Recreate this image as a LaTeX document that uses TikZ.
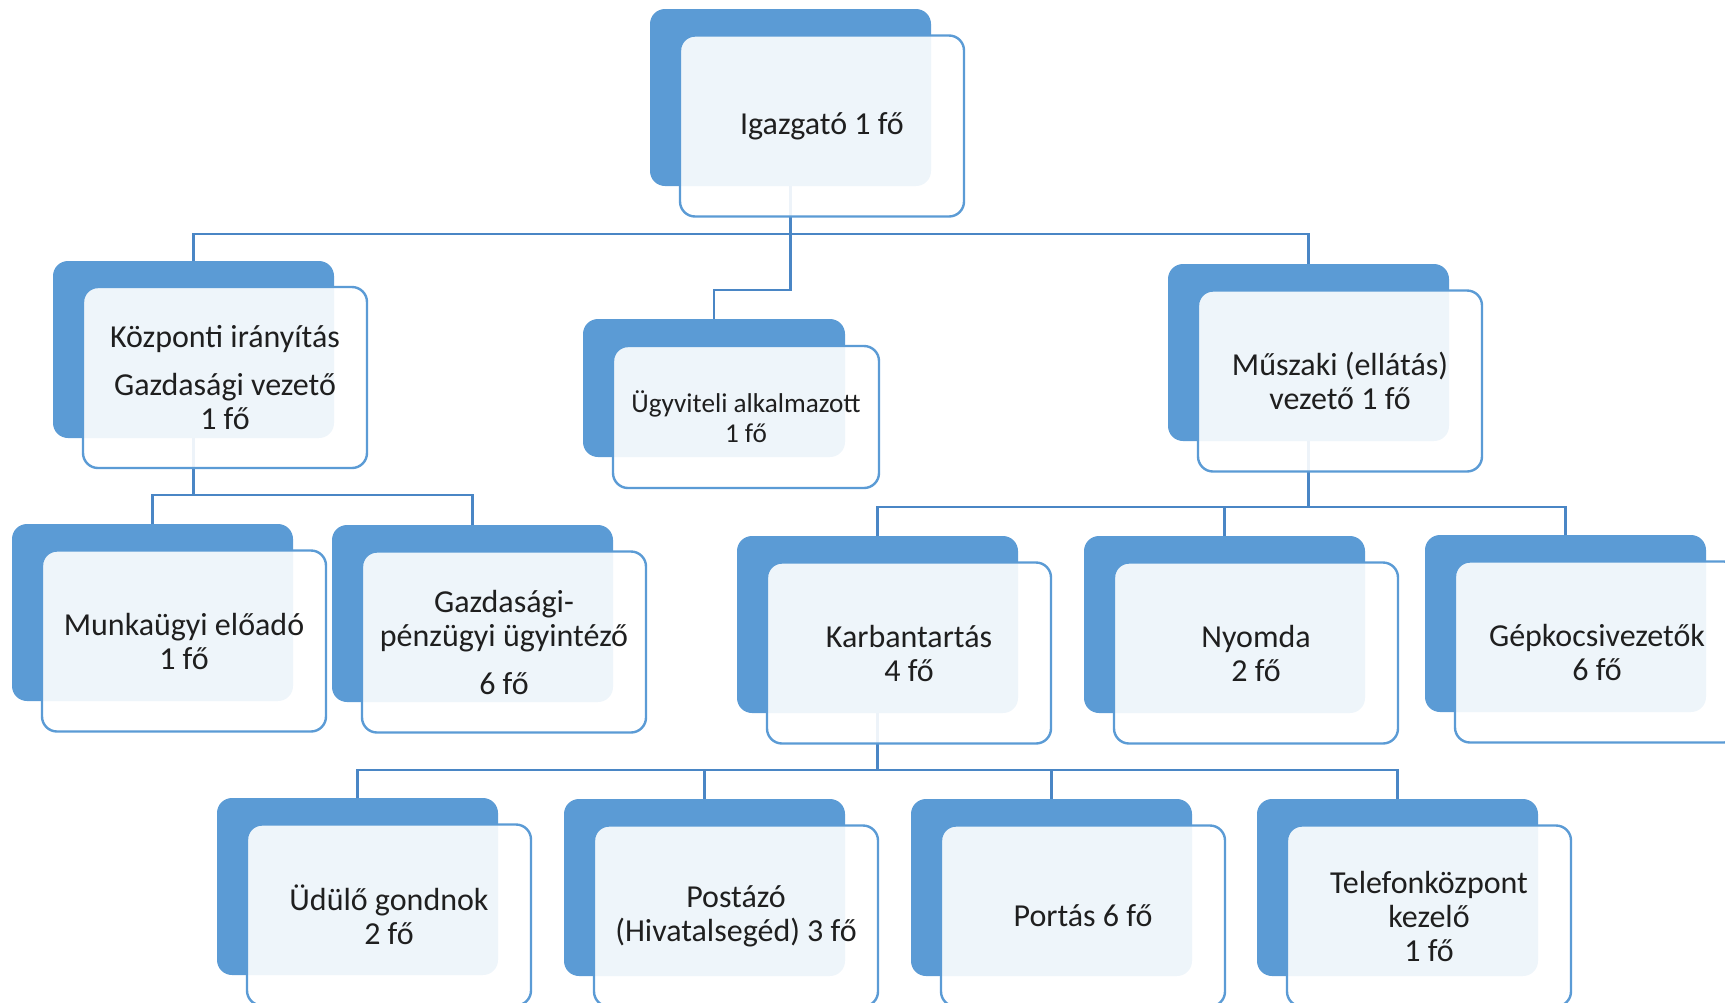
\documentclass[tikz,border=0pt]{standalone}
\usepackage{fontspec}
\setmainfont{Carlito}
\definecolor{bblue}{HTML}{5B9BD5}
\definecolor{lblue}{HTML}{4A86C5}
\begin{document}
\begin{tikzpicture}[x=0.5pt,y=-0.5pt,
 backbox/.style={fill=bblue, rounded corners=7.5pt, minimum width=140.5pt, minimum height=88.5pt, inner sep=0pt, outer sep=0pt},
 smallback/.style={backbox, minimum width=131pt, minimum height=69pt},
 frontbox/.style={draw=bblue, line width=1.2pt, fill=white, fill opacity=0.9, text opacity=1, rounded corners=7.5pt, minimum width=142pt, minimum height=90.5pt, inner sep=0pt, align=center, font=\fontsize{16}{17}\selectfont, text=black!88},
 smallfront/.style={frontbox, minimum width=133pt, minimum height=71pt, font=\fontsize{13.6}{15}\selectfont},
 link/.style={draw=lblue, line width=1.1pt}]
\useasboundingbox (0,0) rectangle (1725,1002);
\clip (0,0) rectangle (1725,1002);
% back boxes
\node[backbox] (ig) at (790.5,97.5) {};
\node[backbox] (koz) at (193.5,349.5) {};
\node[smallback] (ugy) at (714,388) {};
\node[backbox] (mus) at (1308.5,352.5) {};
\node[backbox] (mun) at (152.5,612.5) {};
\node[backbox] (gaz) at (472.5,613.5) {};
\node[backbox] (kar) at (877.5,624.5) {};
\node[backbox] (nyo) at (1224.5,624.5) {};
\node[backbox] (gep) at (1565.5,623.5) {};
\node[backbox] (udu) at (357.5,886.5) {};
\node[backbox] (pos) at (704.5,887.5) {};
\node[backbox] (por) at (1051.5,887.5) {};
\node[backbox] (tel) at (1397.5,887.5) {};
% connectors
\coordinate (t1) at (790.5,234);
\coordinate (t2) at (790.5,290);
\draw[link] (ig.south) -- (t2) -| (ugy.north);
\draw[link] (koz.north) |- (t1) -| (mus.north);
\coordinate (k1) at (193.5,495);
\draw[link] (koz.south) -- (k1);
\draw[link] (mun.north) |- (k1) -| (gaz.north);
\coordinate (m1) at (1308.5,507);
\draw[link] (mus.south) -- (m1);
\draw[link] (kar.north) |- (m1) -| (gep.north);
\draw[link] (nyo.north) |- (m1);
\coordinate (c1) at (877.5,770);
\draw[link] (kar.south) -- (c1);
\draw[link] (udu.north) |- (c1) -| (tel.north);
\draw[link] (pos.north) |- (c1);
\draw[link] (por.north) |- (c1);
% front boxes
\node[frontbox] (igf) at (822,126) {Igazgató 1 fő};
\node[frontbox] (kozf) at (225,377.5) {Központi irányítás\\[7pt]Gazdasági vezető\\1 fő};
\node[smallfront] (ugyf) at (746,417) {Ügyviteli alkalmazott\\1 fő};
\node[frontbox] (musf) at (1340,381) {Műszaki (ellátás)\\vezető 1 fő};
\node[frontbox] (munf) at (184,641) {Munkaügyi előadó\\1 fő};
\node[frontbox] (gazf) at (504,642) {Gazdasági-\\pénzügyi ügyintéző\\[7pt]6 fő};
\node[frontbox] (karf) at (909,653) {Karbantartás\\4 fő};
\node[frontbox] (nyof) at (1256,653) {Nyomda\\2 fő};
\node[frontbox] (gepf) at (1597,652) {Gépkocsivezetők\\6 fő};
\node[frontbox] (uduf) at (389,915) {Üdülő gondnok\\2 fő};
\node[frontbox] (posf) at (736,916) {Postázó\\(Hivatalsegéd) 3 fő};
\node[frontbox] (porf) at (1083,916) {Portás 6 fő};
\node[frontbox] (telf) at (1429,916) {Telefonközpont\\kezelő\\1 fő};
\end{tikzpicture}
\end{document}
